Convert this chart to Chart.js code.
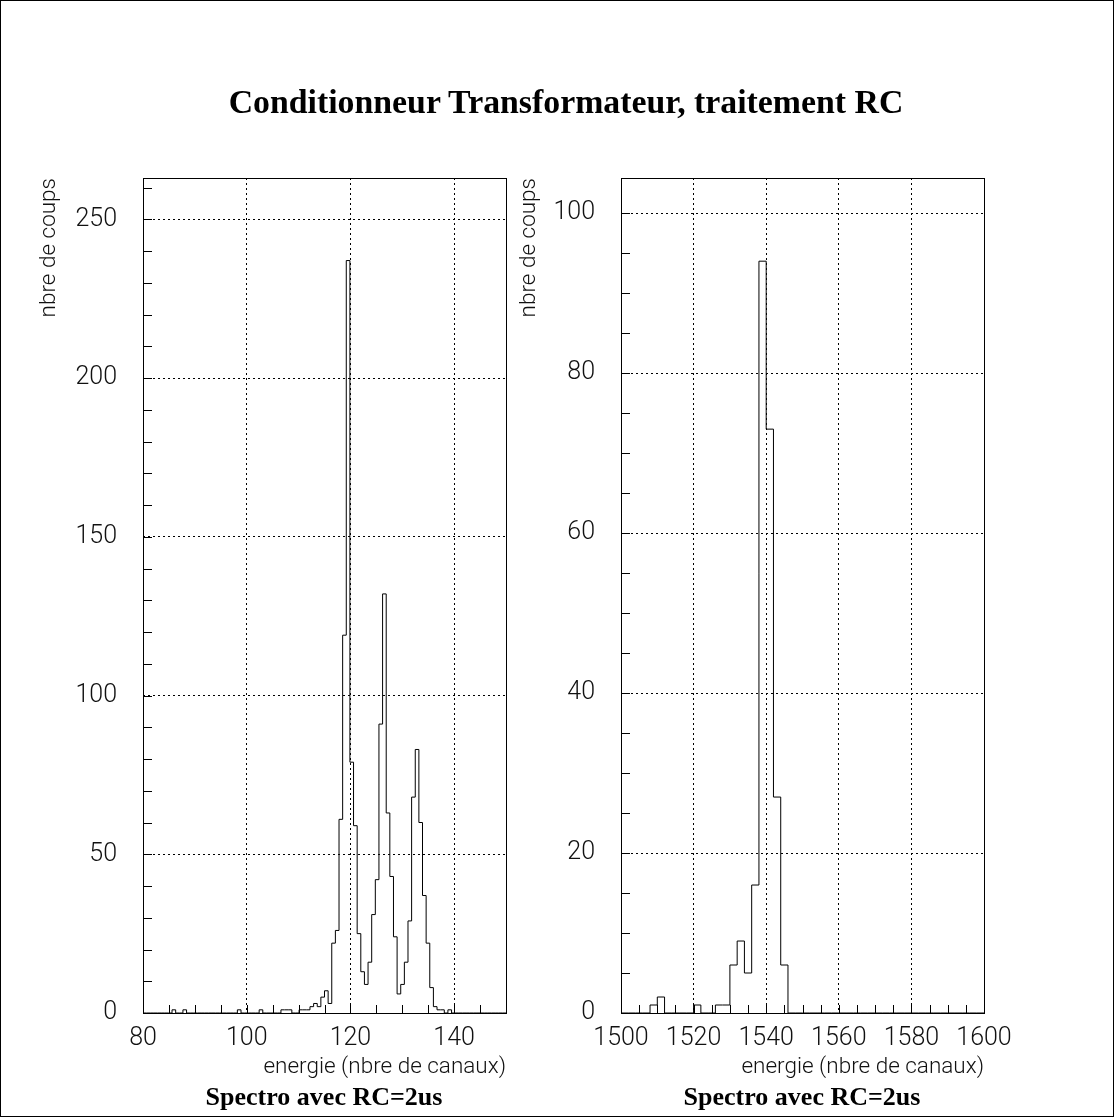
<!DOCTYPE html>
<html>
<head>
<meta charset="utf-8">
<script src="https://cdn.jsdelivr.net/npm/chart.js@4.4.1/dist/chart.umd.min.js"></script>
<style>
html,body{margin:0;padding:0;background:#fff;}
#page{position:relative;width:1114px;height:1117px;overflow:hidden;background:#fff;}
#frame{position:absolute;left:0;top:0;width:1114px;height:1117px;box-sizing:border-box;border:1px solid #000;pointer-events:none;}
canvas{position:absolute;top:0;}
#title{position:absolute;left:9px;width:1114px;top:83px;text-align:center;font:bold 33.8px "Liberation Serif","Times New Roman",serif;color:#000;white-space:nowrap;}
.sub{position:absolute;width:400px;top:1082px;text-align:center;font:bold 26px "Liberation Serif","Times New Roman",serif;color:#000;white-space:nowrap;}
</style>
</head>
<body>
<div id="page">
  <canvas id="c1" width="557" height="1117" style="left:0px"></canvas>
  <canvas id="c2" width="614" height="1117" style="left:500px"></canvas>
  <div id="title">Conditionneur Transformateur, traitement RC</div>
  <div class="sub" style="left:124px">Spectro avec RC=2us</div>
  <div class="sub" style="left:602px">Spectro avec RC=2us</div>
  <div id="frame"></div>
</div>
<script>
// ---- data ----
const leftRange = [80, 150];
const leftCounts = [
  0,0,0,0,0,0,0,0,1,0,
  0,1,0,0,0,0,0,0,0,0,
  0,0,0,0,0,0,1,0,0,0,
  0,0,1,0,0,0,0,0,1,1,
  1,0,0,1,1,1,2,3,2,5,
  7,3,22,26,61,119,237,79,59,25,
  13,9,16,31,42,91,132,63,43,24,
  6,9,16,29,68,83,60,37,22,8,
  2,1,1,0,1,0,0,0,0,0,
  0,0,0,0,0,0,0,0,0,0
];
const leftXLabels = [80, 100, 120, 140];
const leftYLabels = [0, 50, 100, 150, 200, 250];

const rightRange = [1500, 1600];
const rightCounts = [
  0,0,0,0,1,2,0,0,0,0,
  1,0,0,1,1,6,9,5,16,94,
  73,27,6,0,0,0,0,0,0,0,
  0,0,0,0,0,0,0,0,0,0,
  0,0,0,0,0,0,0,0,0,0
];
const rightXLabels = [1500, 1520, 1540, 1560, 1580, 1600];
const rightYLabels = [0, 20, 40, 60, 80, 100];

const yAxisTitle = 'nbre de coups';
const xAxisTitle = 'energie (nbre de canaux)';

// ---- helpers ----
// one point per bin right edge; stepped 'after' rises at the bin's left edge
function histPoints(counts, range) {
  const w = (range[1] - range[0]) / counts.length;
  const pts = [{x: range[0], y: 0}];
  counts.forEach((c, i) => pts.push({x: range[0] + (i + 1) * w, y: c}));
  return pts;
}

const tickFont = {family: 'Roboto, "Liberation Sans", sans-serif', size: 25, weight: '300'};
const titleFont = {family: 'Roboto, "Liberation Sans", sans-serif', size: 22.5, weight: '300'};
const textColor = '#111';

const frameTicks = {
  id: 'frameTicks',
  afterDraw(chart) {
    const {ctx, chartArea: a} = chart;
    const xs = chart.scales.x, ys = chart.scales.y;
    ctx.save();
    ctx.strokeStyle = '#000';
    ctx.lineWidth = 1;
    ctx.setLineDash([]);
    ctx.beginPath();
    xs.ticks.forEach(t => {
      const px = Math.round(xs.getPixelForValue(t.value)) + 0.5;
      ctx.moveTo(px, a.bottom);
      ctx.lineTo(px, a.bottom - 8);
    });
    ys.ticks.forEach(t => {
      const py = Math.round(ys.getPixelForValue(t.value)) + 0.5;
      ctx.moveTo(a.left, py);
      ctx.lineTo(a.left + 9, py);
    });
    ctx.stroke();
    ctx.strokeRect(Math.round(a.left) + 0.5, Math.round(a.top) + 0.5,
                   Math.round(a.right - a.left), Math.round(a.bottom - a.top));
    ctx.restore();
  }
};

function makeChart(id, counts, range, yMax, xStep, yStep, xLabels, yLabels, pad, yWidth) {
  const canvas = document.getElementById(id);
  return new Chart(canvas, {
    type: 'line',
    data: {
      datasets: [{
        data: histPoints(counts, range),
        stepped: 'after',
        borderColor: '#000',
        borderWidth: 1,
        pointRadius: 0,
        fill: false,
        tension: 0
      }]
    },
    options: {
      responsive: false,
      animation: false,
      devicePixelRatio: 1,
      layout: {padding: pad},
      plugins: {legend: {display: false}, tooltip: {enabled: false}, title: {display: false}},
      scales: {
        x: {
          type: 'linear',
          position: 'bottom',
          min: range[0],
          max: range[1],
          afterFit(s) { s.height = 104; },
          ticks: {
            stepSize: xStep,
            includeBounds: false,
            autoSkip: false,
            maxRotation: 0,
            minRotation: 0,
            padding: 11,
            color: textColor,
            font: tickFont,
            callback: v => xLabels.includes(v) ? String(v) : ''
          },
          grid: {
            drawTicks: false,
            lineWidth: 1,
            color: c => (c.tick && xLabels.includes(c.tick.value) && c.tick.value !== range[0] && c.tick.value !== range[1]) ? '#000' : 'rgba(0,0,0,0)'
          },
          border: {display: false, dash: [2, 3]},
          title: {
            display: true,
            text: xAxisTitle,
            align: 'end',
            color: textColor,
            font: titleFont,
            padding: {top: 0, bottom: 36}
          }
        },
        y: {
          type: 'linear',
          min: 0,
          max: yMax,
          afterFit(s) { s.width = yWidth; },
          ticks: {
            stepSize: yStep,
            includeBounds: false,
            autoSkip: false,
            padding: 26,
            color: textColor,
            font: tickFont,
            callback: v => yLabels.includes(v) ? String(v) : ''
          },
          grid: {
            drawTicks: false,
            lineWidth: 1,
            color: c => (c.tick && yLabels.includes(c.tick.value) && c.tick.value !== 0) ? '#000' : 'rgba(0,0,0,0)'
          },
          border: {display: false, dash: [2, 3]},
          title: {
            display: true,
            text: yAxisTitle,
            align: 'end',
            color: textColor,
            font: titleFont,
            padding: {top: 6, bottom: 0}
          }
        }
      }
    },
    plugins: [frameTicks]
  });
}

makeChart('c1', leftCounts, leftRange, 263, 5, 10, leftXLabels, leftYLabels,
          {top: 178, right: 51, bottom: 0, left: 30}, 113);
makeChart('c2', rightCounts, rightRange, 104.4, 5, 5, rightXLabels, rightYLabels,
          {top: 178, right: 130, bottom: 0, left: 10}, 111);
</script>
</body>
</html>
